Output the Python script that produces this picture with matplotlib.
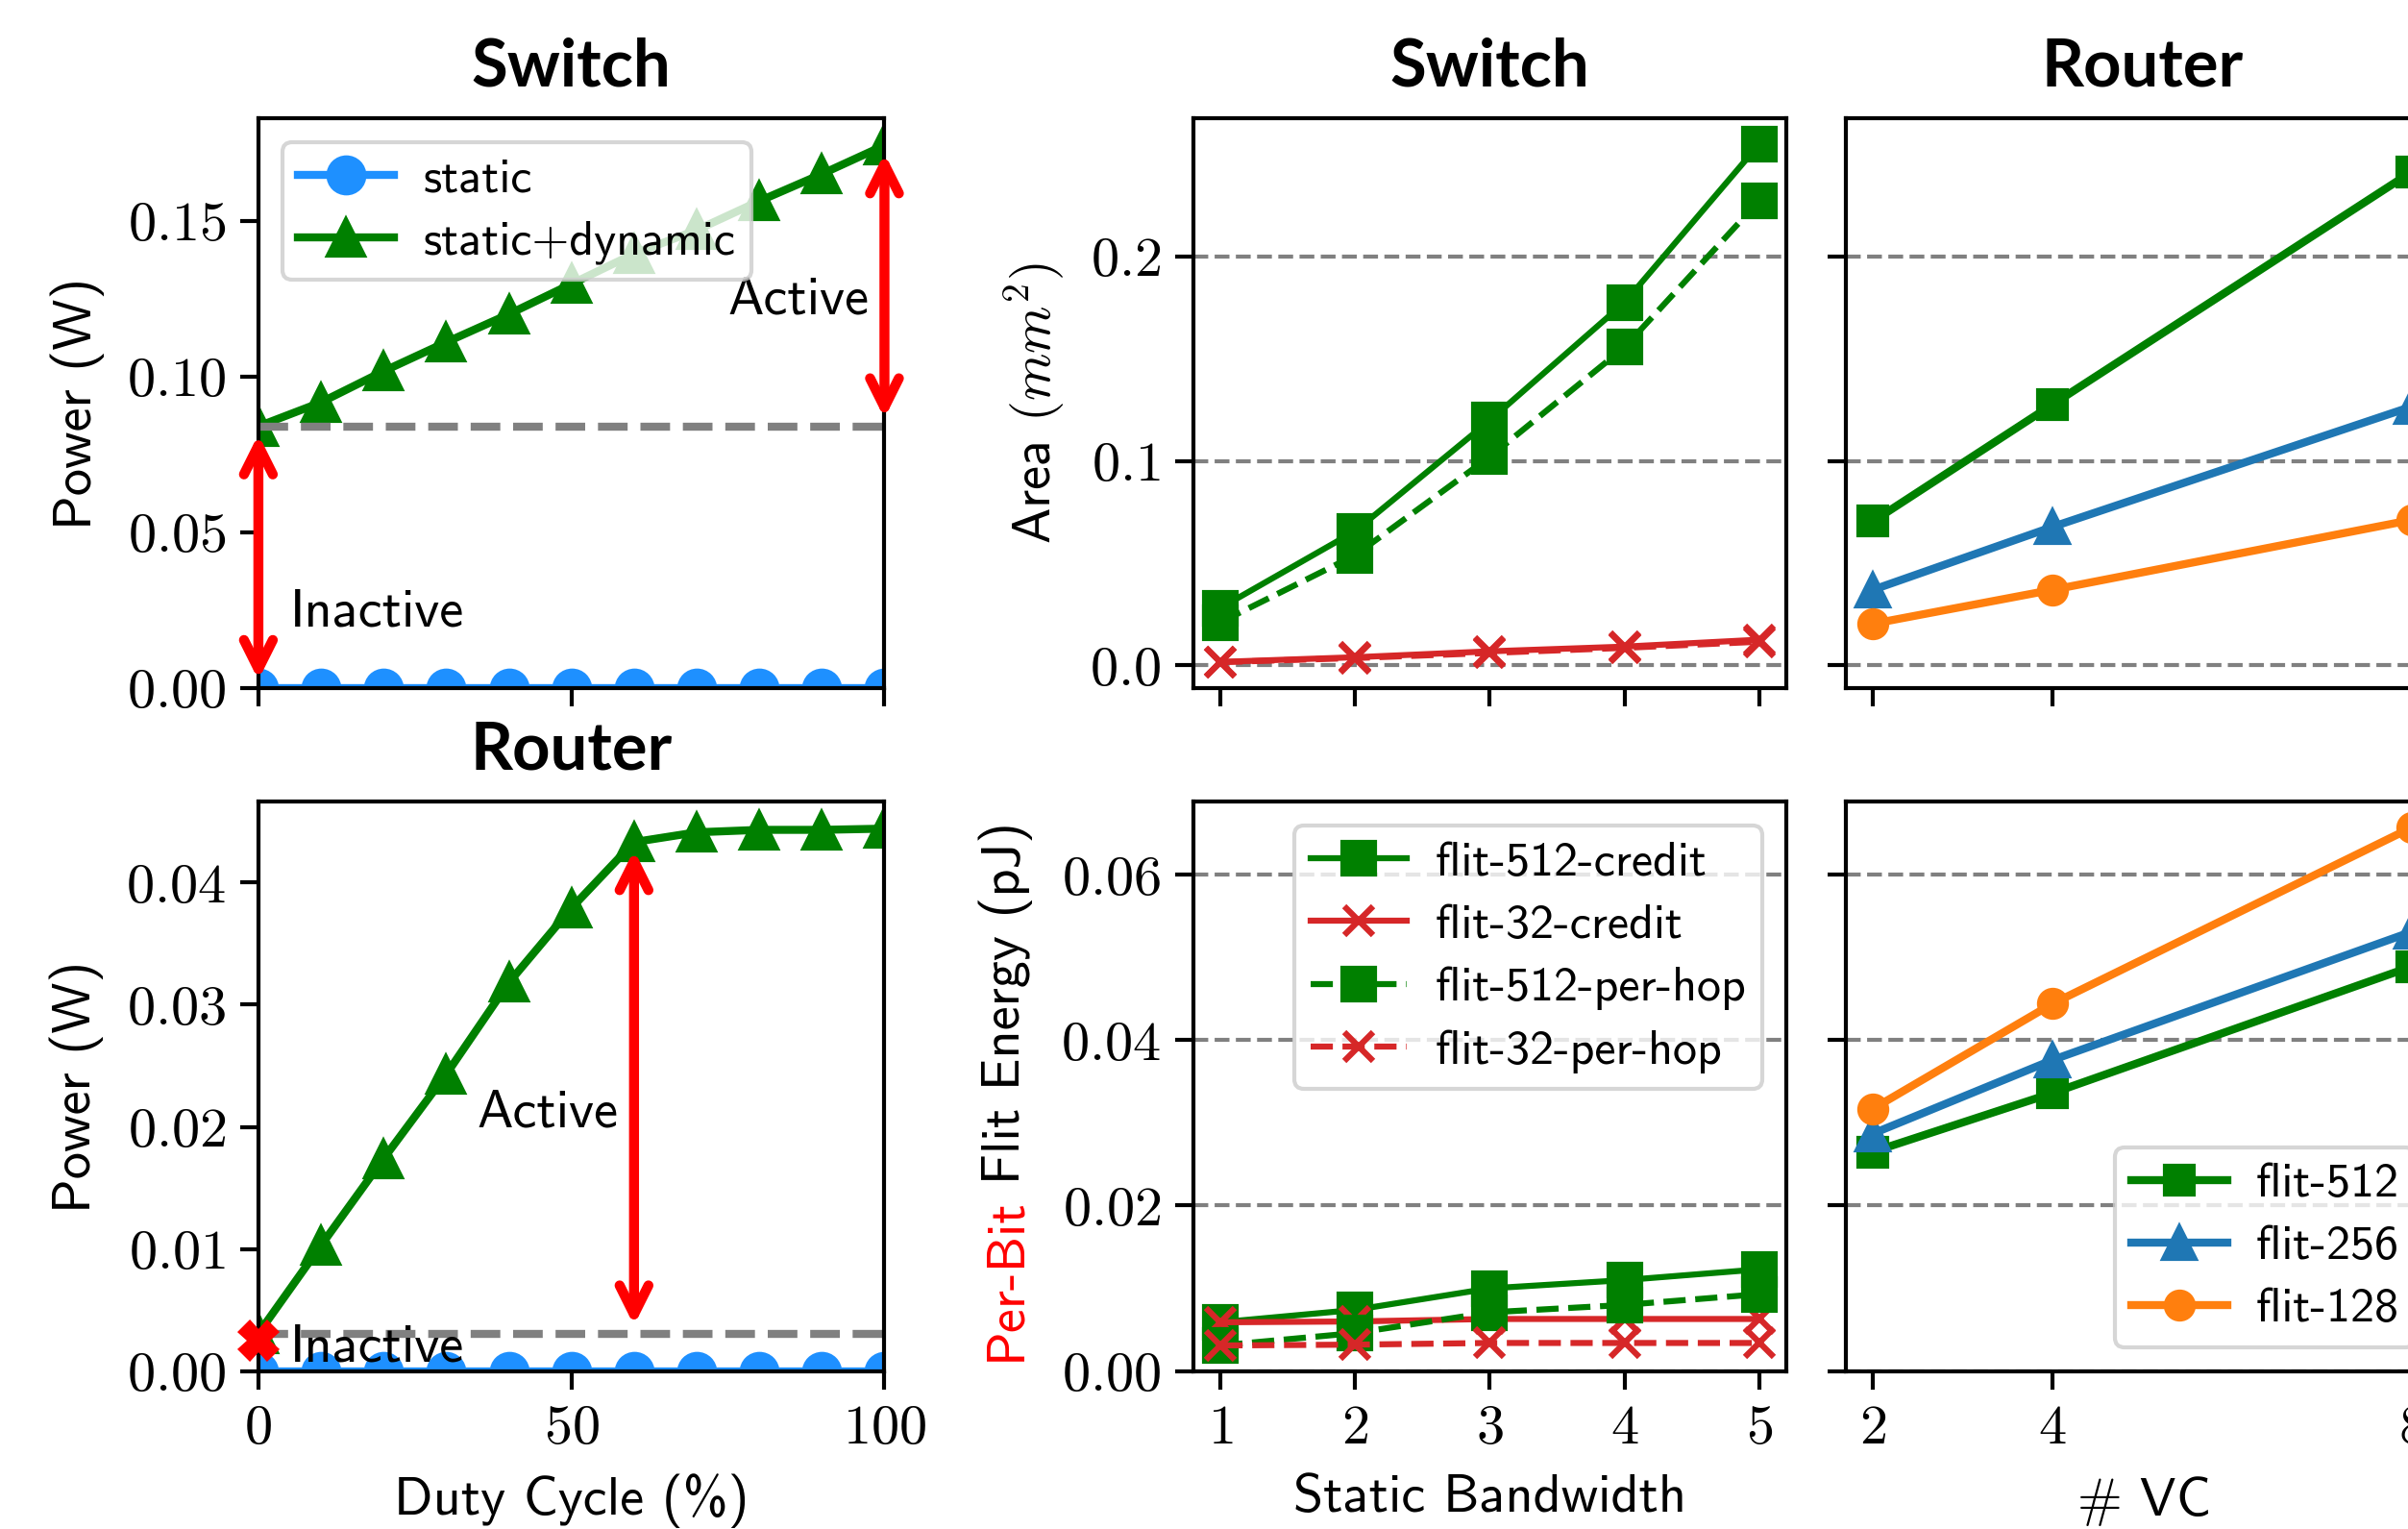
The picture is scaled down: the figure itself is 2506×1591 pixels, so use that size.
import matplotlib
matplotlib.use("Agg")
import matplotlib.pyplot as plt
from matplotlib.ticker import FuncFormatter, MultipleLocator

# ---------------- data ----------------
duty = [0, 10, 20, 30, 40, 50, 60, 70, 80, 90, 100]
sw_static = [0.0, 0.0, 0.0, 0.0, 0.0, 0.0, 0.0, 0.0, 0.0, 0.0, 0.0]
sw_total = [0.0840, 0.0917, 0.1017, 0.1110, 0.1200, 0.1297, 0.1394, 0.1470, 0.1563, 0.1650, 0.1742]
rt_static = [0.0, 0.0, 0.0, 0.0, 0.0, 0.0, 0.0, 0.0, 0.0, 0.0, 0.0]
rt_total = [0.0031, 0.0103, 0.0174, 0.0243, 0.0318, 0.0379, 0.0433, 0.0441, 0.0443, 0.0443, 0.0444]
rt_mark_x = [0]
rt_mark_y = [0.0025]

bw = [1, 2, 3, 4, 5]
area_512_credit = [0.028, 0.0656, 0.1198, 0.1775, 0.2550]
area_32_credit = [0.0016, 0.0039, 0.0068, 0.0091, 0.0125]
area_512_hop = [0.021, 0.0538, 0.1020, 0.1556, 0.2273]
area_32_hop = [0.0015, 0.0035, 0.0060, 0.0085, 0.0115]

en_512_credit = [0.0059, 0.0074, 0.0100, 0.0110, 0.0123]
en_32_credit = [0.0059, 0.0060, 0.0063, 0.0063, 0.0063]
en_512_hop = [0.0031, 0.0046, 0.0071, 0.0080, 0.0093]
en_32_hop = [0.0031, 0.0032, 0.0034, 0.0034, 0.0034]

vc = [2, 4, 8]
ra_512 = [0.0704, 0.1276, 0.2415]
ra_256 = [0.0369, 0.0677, 0.1266]
ra_128 = [0.0203, 0.0369, 0.0711]
re_512 = [0.0265, 0.0336, 0.0489]
re_256 = [0.0287, 0.0376, 0.0531]
re_128 = [0.0317, 0.0444, 0.0657]

# ---------------- style ----------------
plt.rcParams['font.family'] = ['cmss10', 'DejaVu Sans']
plt.rcParams['mathtext.fontset'] = 'cm'
plt.rcParams['axes.unicode_minus'] = False
plt.rcParams['axes.linewidth'] = 1.0
for a in ('xtick', 'ytick'):
    plt.rcParams[f'{a}.major.size'] = 4.6
    plt.rcParams[f'{a}.major.width'] = 1.0
    plt.rcParams[f'{a}.labelsize'] = 14
plt.rcParams['axes.labelsize'] = 13.5
plt.rcParams['legend.fontsize'] = 12
plt.rcParams['legend.labelspacing'] = 0.4
plt.rcParams['legend.borderpad'] = 0.33
plt.rcParams['legend.handletextpad'] = 0.6

GREEN = 'green'
LABSZ = 13.5
TFONT = dict(fontfamily='Lato', fontweight='bold', fontsize=16.5)


def mfmt(d):
    return FuncFormatter(lambda v, p: f'${v:.{d}f}$')


def ifmt():
    return FuncFormatter(lambda v, p: f'${int(round(v))}$')


W, H = 2506, 1591
fig = plt.figure(figsize=(W / 300, H / 300), dpi=300)
lx, lw_ = 0.1073, 0.2600
mx, rx, cw = 0.4956, 0.7666, 0.2462
ty, by, rh = 0.5500, 0.1031, 0.3727

ax_sw = fig.add_axes([lx, ty, lw_, rh])
ax_rt = fig.add_axes([lx, by, lw_, rh], sharex=ax_sw)
ax_area = fig.add_axes([mx, ty, cw, rh])
ax_en = fig.add_axes([mx, by, cw, rh], sharex=ax_area)
ax_ra = fig.add_axes([rx, ty, cw, rh], sharey=ax_area)
ax_re = fig.add_axes([rx, by, cw, rh], sharey=ax_en, sharex=ax_ra)

arrow = dict(arrowstyle='<->', color='red', lw=2.5, mutation_scale=18)

# ---- left top: switch power ----
ax_sw.plot(duty, sw_static, '-o', color='dodgerblue', lw=2, ms=9, label='static')
ax_sw.plot(duty, sw_total, '-^', color=GREEN, lw=2, ms=9, label='static+dynamic')
ax_sw.axhline(sw_total[0], color='gray', ls='--', lw=2)
ax_sw.annotate('', xy=(duty[0], 0), xytext=(duty[0], sw_total[0]), arrowprops=arrow)
ax_sw.annotate('', xy=(duty[-1], sw_total[0]), xytext=(duty[-1], sw_total[-1]), arrowprops=arrow)
ax_sw.text(75, 0.120, 'Active', fontsize=LABSZ)
ax_sw.text(5, 0.020, 'Inactive', fontsize=LABSZ)
ax_sw.set_xlim(0, 100)
ax_sw.set_ylim(bottom=0)
ax_sw.set_xticks([0, 50, 100])
ax_sw.yaxis.set_major_locator(MultipleLocator(0.05))
ax_sw.yaxis.set_major_formatter(mfmt(2))
ax_sw.tick_params(labelbottom=False)
ax_sw.set_ylabel('Power (W)', labelpad=5.5)
ax_sw.set_title('Switch', pad=8, **TFONT)
ax_sw.legend(loc='upper left')

# ---- left bottom: router power ----
ax_rt.plot(duty, rt_static, '-o', color='dodgerblue', lw=2, ms=9)
ax_rt.plot(duty, rt_total, '-^', color=GREEN, lw=2, ms=9)
ax_rt.axhline(rt_total[0], color='gray', ls='--', lw=2)
ax_rt.plot(rt_mark_x, rt_mark_y, 'X', color='red', ms=9, clip_on=False, zorder=6)
ax_rt.annotate('', xy=(duty[6], rt_total[0]), xytext=(duty[6], rt_total[6]), arrowprops=arrow)
ax_rt.text(35, 0.020, 'Active', fontsize=LABSZ)
ax_rt.text(5, 0.0008, 'Inactive', fontsize=LABSZ)
ax_rt.set_ylim(bottom=0)
ax_rt.yaxis.set_major_locator(MultipleLocator(0.01))
ax_rt.yaxis.set_major_formatter(mfmt(2))
ax_rt.xaxis.set_major_formatter(ifmt())
ax_rt.set_ylabel('Power (W)', labelpad=5.5)
ax_rt.set_xlabel('Duty Cycle (%)', labelpad=5)
ax_rt.set_title('Router', pad=8, **TFONT)

# ---- middle top: switch area ----
ax_area.plot(bw, area_512_credit, '-s', color=GREEN, lw=1.5, ms=8)
ax_area.plot(bw, area_32_credit, '-x', color='tab:red', lw=1.5, ms=7, mew=1.5)
ax_area.plot(bw, area_512_hop, '--s', color=GREEN, lw=1.5, ms=8)
ax_area.plot(bw, area_32_hop, '--x', color='tab:red', lw=1.5, ms=7, mew=1.5)
ax_area.set_xticks(bw)
ax_area.yaxis.set_major_locator(MultipleLocator(0.1))
ax_area.yaxis.set_major_formatter(mfmt(1))
ax_area.tick_params(labelbottom=False)
ax_area.yaxis.grid(True, ls='--', color='gray', lw=1)
ax_area.set_ylabel(r'Area $(mm^2)$', labelpad=5.5)
ax_area.set_title('Switch', pad=8, **TFONT)

# ---- middle bottom: switch energy ----
ax_en.plot(bw, en_512_credit, '-s', color=GREEN, lw=1.5, ms=8, label='flit-512-credit')
ax_en.plot(bw, en_32_credit, '-x', color='tab:red', lw=1.5, ms=7, mew=1.5, label='flit-32-credit')
ax_en.plot(bw, en_512_hop, '--s', color=GREEN, lw=1.5, ms=8, label='flit-512-per-hop')
ax_en.plot(bw, en_32_hop, '--x', color='tab:red', lw=1.5, ms=7, mew=1.5, label='flit-32-per-hop')
ax_en.yaxis.set_major_locator(MultipleLocator(0.02))
ax_en.yaxis.set_major_formatter(mfmt(2))
ax_en.xaxis.set_major_formatter(ifmt())
ax_en.yaxis.grid(True, ls='--', color='gray', lw=1)
ax_en.set_xlabel('Static Bandwidth', labelpad=5)
ax_en.text(-0.316, 0.305, 'Per-Bit', color='red', rotation=90, ha='center', va='top',
           fontsize=LABSZ, transform=ax_en.transAxes)
ax_en.text(-0.316, 0.328, 'Flit Energy (pJ)', color='black', rotation=90, ha='center',
           va='bottom', fontsize=LABSZ, transform=ax_en.transAxes)
ax_en.legend(loc='upper right')

# ---- right top: router area ----
ax_ra.plot(vc, ra_512, '-s', color=GREEN, lw=2, ms=7)
ax_ra.plot(vc, ra_256, '-^', color='tab:blue', lw=2, ms=8)
ax_ra.plot(vc, ra_128, '-o', color='tab:orange', lw=2, ms=7)
ax_ra.set_xticks(vc)
ax_ra.yaxis.grid(True, ls='--', color='gray', lw=1)
ax_ra.tick_params(labelleft=False, labelbottom=False)
ax_ra.set_title('Router', pad=8, **TFONT)

# ---- right bottom: router energy ----
ax_re.plot(vc, re_512, '-s', color=GREEN, lw=2, ms=7, label='flit-512')
ax_re.plot(vc, re_256, '-^', color='tab:blue', lw=2, ms=8, label='flit-256')
ax_re.plot(vc, re_128, '-o', color='tab:orange', lw=2, ms=7, label='flit-128')
ax_re.xaxis.set_major_formatter(ifmt())
ax_re.yaxis.grid(True, ls='--', color='gray', lw=1)
ax_re.tick_params(labelleft=False)
ax_re.set_xlabel(r'$\#$ VC', labelpad=5)
ax_re.legend(loc='lower right')

fig.savefig('out.png', dpi=300)
